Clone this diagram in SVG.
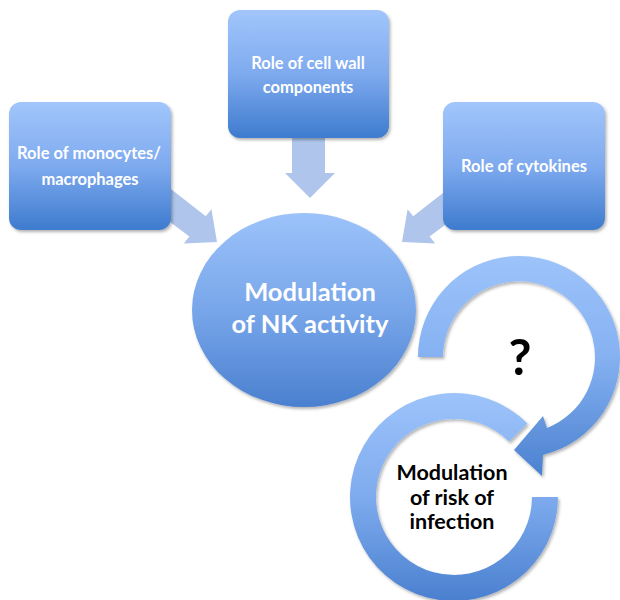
<svg xmlns="http://www.w3.org/2000/svg" width="620" height="600" viewBox="0 0 620 600">
<style>
.box{fill:url(#gBox);filter:url(#sh)}
.arr{fill:#afc5eb}
.wt{font-family:Lato,"Open Sans","Liberation Sans",sans-serif;font-weight:bold;fill:#ffffff;text-anchor:middle}
.bt{font-family:Lato,"Open Sans","Liberation Sans",sans-serif;font-weight:bold;fill:#000000;text-anchor:middle}
</style>
<defs>
<linearGradient id="gBox" x1="0" y1="0" x2="0" y2="1">
<stop offset="0" stop-color="#a2c6fc"/>
<stop offset="0.5" stop-color="#7eaaee"/>
<stop offset="1" stop-color="#3e7bce"/>
</linearGradient>
<linearGradient id="gCirc" x1="0" y1="0" x2="0" y2="1">
<stop offset="0" stop-color="#9cc3fa"/>
<stop offset="0.5" stop-color="#78a6ea"/>
<stop offset="1" stop-color="#4a80cf"/>
</linearGradient>
<linearGradient id="gRing1" gradientUnits="userSpaceOnUse" x1="0" y1="255" x2="0" y2="478">
<stop offset="0" stop-color="#9dc3fa"/>
<stop offset="0.45" stop-color="#86b2f2"/>
<stop offset="1" stop-color="#4a80cf"/>
</linearGradient>
<linearGradient id="gRing2" gradientUnits="userSpaceOnUse" x1="0" y1="393" x2="0" y2="601">
<stop offset="0" stop-color="#9dc3fa"/>
<stop offset="0.5" stop-color="#7eabee"/>
<stop offset="1" stop-color="#4a80cf"/>
</linearGradient>
<linearGradient id="gArr" x1="0" y1="0" x2="0" y2="1">
<stop offset="0" stop-color="#bad0f2"/>
<stop offset="1" stop-color="#a7bfe8"/>
</linearGradient>
<filter id="sh" x="-10%" y="-10%" width="125%" height="125%">
<feDropShadow dx="1.5" dy="2" stdDeviation="1.8" flood-color="#000" flood-opacity="0.3"/>
</filter>
</defs>
<rect width="620" height="600" fill="#ffffff"/>
<g id="connectors">
<polygon class="arr" fill="url(#gArr)" points="292,130 325,130 325,173 335,173 310,198 285,173 292,173"/>
<polygon class="arr" fill="url(#gArr)" points="150,207 167,186 205.8,216.2 211.4,209.2 217,242 183.8,243.4 189.4,236.4"/>
<polygon class="arr" fill="url(#gArr)" points="469,207 452,186 413.2,216.2 407.6,209.2 402,242 435.2,243.4 429.6,236.4"/>
</g>
<g id="box-monocytes">
<rect class="box" x="9" y="102" width="162" height="128" rx="12"/>
<text class="wt" x="89" y="159" font-size="16.5">Role of monocytes/</text>
<text class="wt" x="90" y="185" font-size="16.5">macrophages</text>
</g>
<g id="box-cellwall">
<rect class="box" x="228" y="10" width="161" height="128" rx="12"/>
<text class="wt" x="308" y="69" font-size="16.5">Role of cell wall</text>
<text class="wt" x="308" y="93" font-size="16.5">components</text>
</g>
<g id="box-cytokines">
<rect class="box" x="443" y="102" width="162" height="128" rx="12"/>
<text class="wt" x="524" y="172" font-size="16.5">Role of cytokines</text>
</g>
<g id="nk">
<ellipse cx="304" cy="310" rx="112" ry="97" fill="url(#gCirc)" filter="url(#sh)"/>
<text class="wt" x="310" y="301" font-size="25.5">Modulation</text>
<text class="wt" x="310" y="333" font-size="25.5">of NK activity</text>
</g>
<g id="loop">
<path d="M 418 357 A 101 101 0 1 1 543 455 L 542 476 L 514 450 L 543 416 L 547 428 A 76 76 0 1 0 443 357 Z" fill="url(#gRing1)" filter="url(#sh)"/>
<text class="bt" x="520" y="375" font-size="50">?</text>
</g>
<g id="risk">
<path d="M 558 497 A 104 104 0 1 1 527.5 423.5 L 509.2 441.8 A 78 78 0 1 0 532 497 Z" fill="url(#gRing2)" filter="url(#sh)"/>
<text class="bt" x="452" y="480" font-size="21.5">Modulation</text>
<text class="bt" x="452" y="505" font-size="21.5">of risk of</text>
<text class="bt" x="452" y="529" font-size="21.5">infection</text>
</g>
</svg>
